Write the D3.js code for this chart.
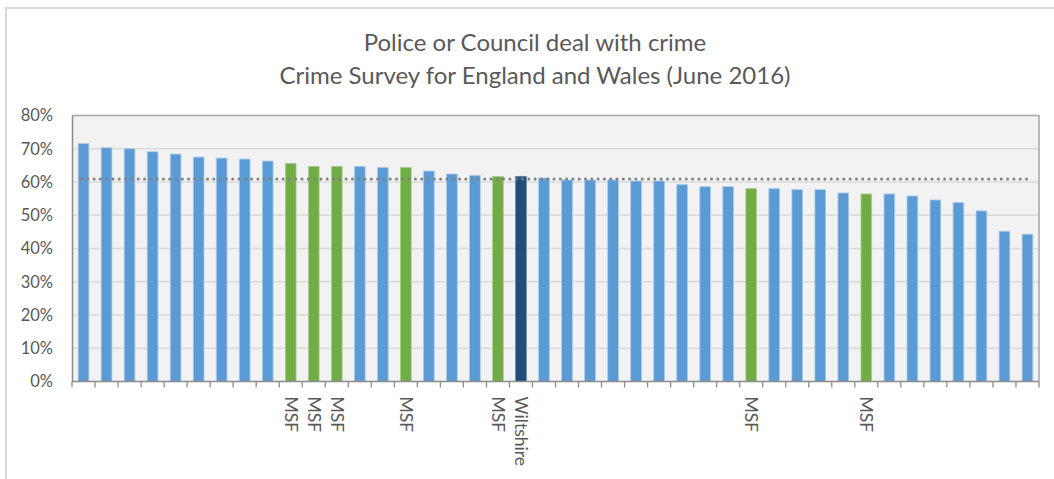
<!DOCTYPE html>
<html>
<head>
<meta charset="utf-8">
<script src="https://cdn.jsdelivr.net/npm/d3@7"></script>
<style>
  html, body { margin: 0; padding: 0; background: #fff; }
  svg { display: block; }
  text { font-family: Lato, "Open Sans", sans-serif; }
</style>
</head>
<body>
<svg id="chart" width="1054" height="479"></svg>
<script>
// ---- data ----
const titleLines = ["Police or Council deal with crime", "Crime Survey for England and Wales (June 2016)"];
const labels = ["", "", "", "", "", "", "", "", "", "MSF",
                "MSF", "MSF", "", "", "MSF", "", "", "", "MSF", "Wiltshire",
                "", "", "", "", "", "", "", "", "", "MSF",
                "", "", "", "", "MSF", "", "", "", "", "",
                "", ""];
const groups = ["other","other","other","other","other","other","other","other","other","msf",
                "msf","msf","other","other","msf","other","other","other","msf","wiltshire",
                "other","other","other","other","other","other","other","other","other","msf",
                "other","other","other","other","msf","other","other","other","other","other",
                "other","other"];
const values = [0.716, 0.703, 0.700, 0.691, 0.684, 0.675, 0.672, 0.669, 0.663, 0.656,
                0.647, 0.647, 0.647, 0.644, 0.644, 0.633, 0.624, 0.620, 0.617, 0.617,
                0.612, 0.606, 0.606, 0.606, 0.603, 0.603, 0.592, 0.586, 0.586, 0.580,
                0.580, 0.577, 0.577, 0.567, 0.564, 0.564, 0.558, 0.546, 0.538, 0.513,
                0.452, 0.443];
const average = 0.609;
const yTicks = [0, 0.1, 0.2, 0.3, 0.4, 0.5, 0.6, 0.7, 0.8];

// ---- layout ----
const svg = d3.select("#chart");
const plot = { left: 72, top: 115.5, right: 1039, bottom: 381.5 };
const idx = d3.range(values.length);

const x = d3.scaleBand().domain(idx).range([plot.left, plot.right]).paddingInner(0.535).paddingOuter(0.2675);
const y = d3.scaleLinear().domain([0, 0.8]).range([plot.bottom, plot.top]);
const color = d3.scaleOrdinal().domain(["other", "msf", "wiltshire"]).range(["#5b9bd5", "#70ad47", "#1f4e79"]);
const stroke = d3.scaleOrdinal().domain(["other", "msf", "wiltshire"]).range(["#a9cbeb", "#a9d08e", "#5f86ad"]);

// outer chart border
svg.append("rect").attr("x", 6).attr("y", 8).attr("width", 1060).attr("height", 490)
  .attr("fill", "#fff").attr("stroke", "#d9d9d9").attr("stroke-width", 2);

// title
svg.append("g").selectAll("text").data(titleLines).join("text")
  .attr("x", 535).attr("y", (d, i) => 51 + i * 32.5)
  .attr("text-anchor", "middle").attr("fill", "#595959").attr("font-size", 24)
  .text(d => d);

// plot background
svg.append("rect").attr("x", plot.left).attr("y", plot.top)
  .attr("width", plot.right - plot.left).attr("height", plot.bottom - plot.top)
  .attr("fill", "#f2f2f2");

// gridlines
svg.append("g").selectAll("line").data(yTicks.slice(1, -1)).join("line")
  .attr("x1", plot.left).attr("x2", plot.right)
  .attr("y1", d => y(d)).attr("y2", d => y(d))
  .attr("stroke", "#d9d9d9").attr("stroke-width", 1.3);

// bars
svg.append("g").selectAll("rect").data(idx).join("rect")
  .attr("x", i => x(i)).attr("width", x.bandwidth())
  .attr("y", i => y(values[i])).attr("height", i => y(0) - y(values[i]))
  .attr("fill", i => color(groups[i]))
  .attr("stroke", i => stroke(groups[i])).attr("stroke-width", 0.8);

// average dotted line
svg.append("line")
  .attr("x1", x(0) + x.bandwidth() / 2 - 2).attr("x2", x(idx.length - 1) + x.bandwidth() / 2)
  .attr("y1", y(average)).attr("y2", y(average))
  .attr("stroke", "#808080").attr("stroke-width", 3)
  .attr("stroke-linecap", "round").attr("stroke-dasharray", "0 6.3");

// plot frame (top & right)
svg.append("path")
  .attr("d", `M${plot.left},${plot.top}H${plot.right}V${plot.bottom}`)
  .attr("fill", "none").attr("stroke", "#a6a6a6").attr("stroke-width", 1.5);

// y axis
const yAxis = svg.append("g").attr("transform", `translate(${plot.left},0)`)
  .call(d3.axisLeft(y).tickValues(yTicks).tickFormat(d3.format(".0%")).tickSize(0).tickPadding(19));
yAxis.select(".domain").attr("stroke", "#8c8c8c").attr("stroke-width", 1.5);
yAxis.selectAll("text").attr("fill", "#595959").attr("font-size", 16.5).attr("font-family", "Lato, sans-serif");

// x axis
const step = x.step();
const xAxis = svg.append("g").attr("transform", `translate(0,${plot.bottom})`)
  .call(d3.axisBottom(x).tickSizeOuter(0).tickSize(6).tickFormat(i => labels[i]));
xAxis.select(".domain").attr("stroke", "#8c8c8c").attr("stroke-width", 1.5)
  .attr("d", `M${plot.left},0H${plot.right}`);
xAxis.selectAll(".tick line").attr("x1", -step / 2).attr("x2", -step / 2)
  .attr("stroke", "#8c8c8c").attr("stroke-width", 1.3);
xAxis.append("line").attr("x1", plot.right).attr("x2", plot.right).attr("y1", 0).attr("y2", 6)
  .attr("stroke", "#8c8c8c").attr("stroke-width", 1.3);
xAxis.selectAll(".tick text")
  .attr("transform", "rotate(90)")
  .attr("x", 15).attr("y", 0).attr("dy", "0.35em")
  .attr("text-anchor", "start")
  .attr("fill", "#595959").attr("font-size", 17.5).attr("font-family", "Lato, sans-serif");
</script>
</body>
</html>
